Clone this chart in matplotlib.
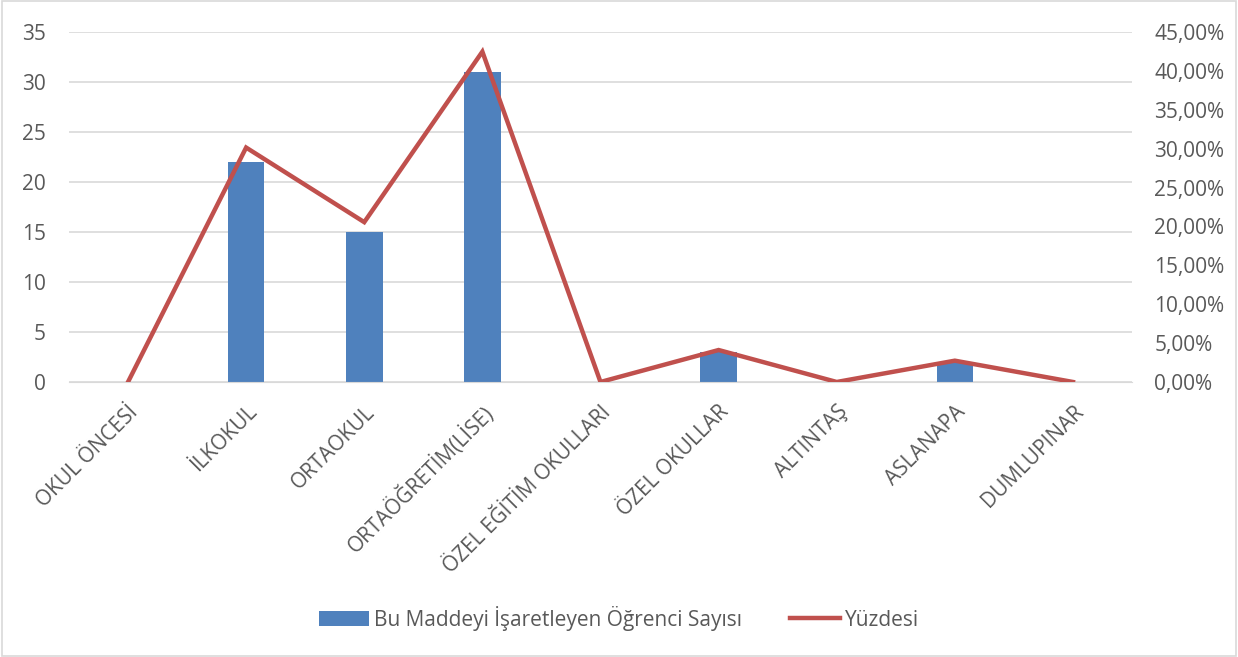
import numpy as np
import matplotlib.pyplot as plt
from matplotlib.ticker import FuncFormatter

categories = ["OKUL ÖNCESİ", "İLKOKUL", "ORTAOKUL", "ORTAÖĞRETİM(LİSE)",
              "ÖZEL EĞİTİM OKULLARI", "ÖZEL OKULLAR", "ALTINTAŞ", "ASLANAPA",
              "DUMLUPINAR"]
counts = [0, 22, 15, 31, 0, 3, 0, 2, 0]
percents = [0.0, 30.14, 20.55, 42.47, 0.0, 4.11, 0.0, 2.74, 0.0]

plt.rcParams['font.family'] = ['Open Sans', 'DejaVu Sans']
text_color = '#595959'

fig = plt.figure(figsize=(12.38, 6.57), dpi=100)
ax = fig.add_axes([0.0557, 0.4186, 0.8587, 0.5327])
ax2 = ax.twinx()

x = np.arange(len(categories))
bars = ax.bar(x, counts, width=0.31, color='#4F81BD', zorder=2,
              label='Bu Maddeyi İşaretleyen Öğrenci Sayısı')
line, = ax2.plot(x, percents, color='#C0504D', linewidth=3.2, zorder=3,
                 solid_joinstyle='miter', label='Yüzdesi')

ax.set_xlim(-0.5, len(categories) - 0.5)
ax.set_ylim(0, 35)
ax.set_yticks(range(0, 36, 5))
ax2.set_ylim(0, 45)
ax2.set_yticks(range(0, 46, 5))
ax2.yaxis.set_major_formatter(FuncFormatter(lambda v, p: f"{v:.2f}%".replace('.', ',')))

ax.grid(axis='y', color='#D9D9D9', linewidth=1.2, zorder=0)
ax.set_axisbelow(True)
for a in (ax, ax2):
    for s in a.spines.values():
        s.set_visible(False)
    a.tick_params(length=0, labelsize=15, colors=text_color)
ax.spines['bottom'].set_visible(True)
ax.spines['bottom'].set_color('#D9D9D9')
ax.tick_params(axis='y', pad=16.5)
ax2.tick_params(axis='y', pad=16)

ax.set_xticks(x)
ax.set_xticklabels(categories, rotation=45, ha='right', rotation_mode='anchor')
ax.tick_params(axis='x', pad=14)

fig.legend([bars, line], ['Bu Maddeyi İşaretleyen Öğrenci Sayısı', 'Yüzdesi'],
           loc='center', bbox_to_anchor=(0.5, 0.059), ncol=2, frameon=False,
           fontsize=15, labelcolor=text_color, handlelength=2.4, handleheight=0.8,
           handletextpad=0.25, columnspacing=2.3)

fig.patches.append(plt.Rectangle((0.002, 0.002), 0.996, 0.996, transform=fig.transFigure,
                                 fill=False, edgecolor='#D9D9D9', linewidth=1.2))

fig.savefig('out.png', dpi=100, facecolor='white')
